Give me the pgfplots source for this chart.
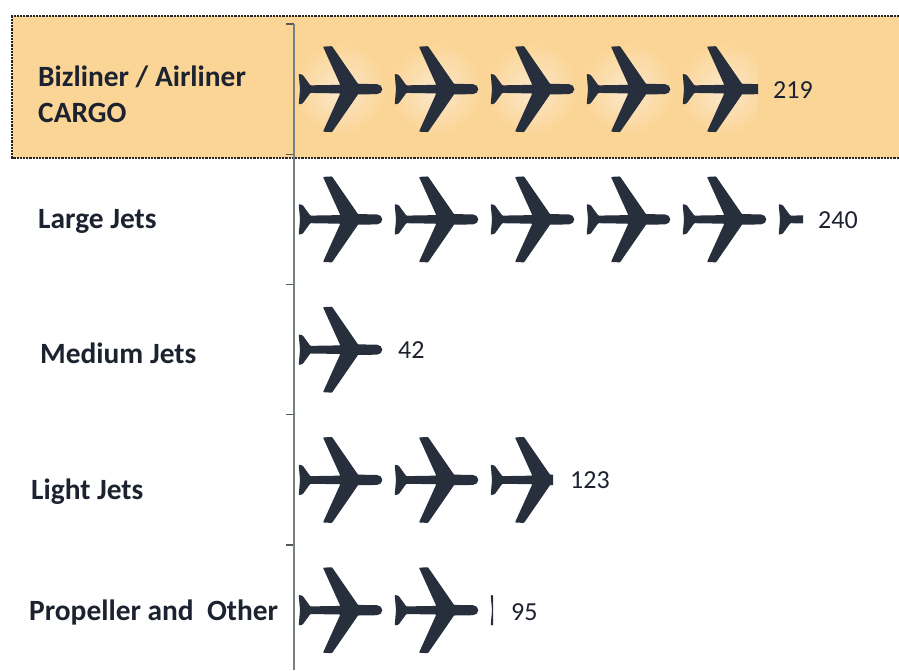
\documentclass[border=0pt]{standalone}
\usepackage{pgfplots}
\pgfplotsset{compat=1.18}
\usepackage{fontspec}
\setmainfont{Carlito}
\definecolor{planecol}{HTML}{282F3C}
\definecolor{txtcol}{HTML}{1C2230}
\definecolor{band}{HTML}{FBD596}
\definecolor{glow}{HTML}{FBE8CC}
\definecolor{axiscol}{HTML}{75827F}
\tikzset{cat/.style={font=\fontsize{29.4}{34}\selectfont\bfseries,text=txtcol,inner sep=0pt,anchor=west},
         val/.style={font=\fontsize{26}{30}\selectfont,text=txtcol,inner sep=0pt,anchor=west}}
% plane icon: 84 x 86 units, origin at the tail on the centre line
\newcommand\planeshape{%
  \fill[draw=none,planecol,x=1pt,y=1pt,rounded corners=0.7pt]
    (0.7,15.3)--(4.7,14.3)--(12.3,3.8)--(42.3,4.3)--(25,42.5)--(34,43)--(60,5.3)[sharp corners]--(79,5)
    .. controls (82,5) and (84.3,2.5) .. (84.3,0) .. controls (84.3,-2.5) and (82,-5) .. (79,-5)
    --(60,-5.3)[rounded corners=0.7pt]--(34,-43)--(25,-42.5)--(42.3,-4.3)--(12.3,-3.8)--(4.7,-14.3)--(0.7,-15.3)--(2,0)--cycle;}
\newcommand\planeclip[1]{\pgfpathrectanglecorners{\pgfpoint{-1pt}{-46pt}}{\pgfpoint{#1pt}{46pt}}\pgfusepath{clip}}
\newcommand\declareplane[2]{%
  \pgfdeclareplotmark{#1}{\begin{pgfscope}\planeclip{#2}\planeshape\end{pgfscope}}}
\newcommand\declareglowplane[2]{%
  \pgfdeclareplotmark{#1}{\begin{pgfscope}\planeclip{#2}%
    \shade[draw=none,x=1pt,y=1pt,inner color=glow,outer color=band] (42,0) circle (46);\planeshape\end{pgfscope}}}
\declareplane{planefull}{90}
\declareplane{planeA}{25}
\declareplane{planeB}{63}
\declareplane{planeC}{3}
\declareglowplane{glowfull}{90}
\declareglowplane{glowcut}{76}
\begin{document}
\begin{tikzpicture}
\path[use as bounding box] (0,0) rectangle (899pt,670pt);
\begin{axis}[
  at={(294pt,0pt)}, anchor=south west,
  width=605pt, height=646pt, scale only axis,
  xmin=-1.905, xmax=286.19, ymin=-0.5, ymax=4.459, y dir=reverse,
  axis x line=none, axis y line*=left, axis on top=true, clip=false,
  ytick={-0.5,0.5,1.5,2.5,3.5}, yticklabels={},
  tick align=outside, major tick length=8pt,
  y axis line style={color=axiscol,line width=2.8pt},
  ytick style={color=axiscol!70!black,line width=1.2pt},
]
% highlighted band
\addplot[fill=band,draw=none] coordinates {(-136.2,-0.56) (286.19,-0.56) (286.19,0.53) (-136.2,0.53)} --cycle;
\addplot[color=black!85,line width=1.6pt,dash pattern=on 2.2pt off 1pt] coordinates {(286.19,-0.56) (-136.2,-0.56) (-136.2,0.53) (286.19,0.53)};
% Bizliner / Airliner CARGO: 219
\addplot[only marks,mark=glowfull] coordinates {(0,0) (45.71,0) (91.43,0) (137.14,0)};
\addplot[only marks,mark=glowcut] coordinates {(182.86,0)};
% Large Jets: 240
\addplot[only marks,mark=planefull] coordinates {(0,1) (45.71,1) (91.43,1) (137.14,1) (182.86,1)};
\addplot[only marks,mark=planeA] coordinates {(228.57,1)};
% Medium Jets: 42
\addplot[only marks,mark=planefull] coordinates {(0,2)};
% Light Jets: 123
\addplot[only marks,mark=planefull] coordinates {(0,3) (45.71,3)};
\addplot[only marks,mark=planeB] coordinates {(91.43,3)};
% Propeller and Other: 95
\addplot[only marks,mark=planefull] coordinates {(0,4) (45.71,4)};
\addplot[only marks,mark=planeC] coordinates {(91.43,4)};
% category labels
\node[cat] at (axis cs:-123.81,-0.092) {Bizliner / Airliner};
\node[cat] at (axis cs:-123.81,0.184) {CARGO};
\node[cat] at (axis cs:-123.81,1.013) {Large Jets};
\node[cat] at (axis cs:-122.86,2.026) {Medium Jets};
\node[cat] at (axis cs:-127.14,3.09) {Light Jets};
\node[cat] at (axis cs:-128.1,4.02) {Propeller and\ \ Other};
% value labels
\node[val] at (axis cs:226.19,0.008) {219};
\node[val] at (axis cs:247.62,1.005) {240};
\node[val] at (axis cs:47.62,2.003) {42};
\node[val] at (axis cs:129.52,3.001) {123};
\node[val] at (axis cs:101.43,4.014) {95};
\end{axis}
\end{tikzpicture}
\end{document}
